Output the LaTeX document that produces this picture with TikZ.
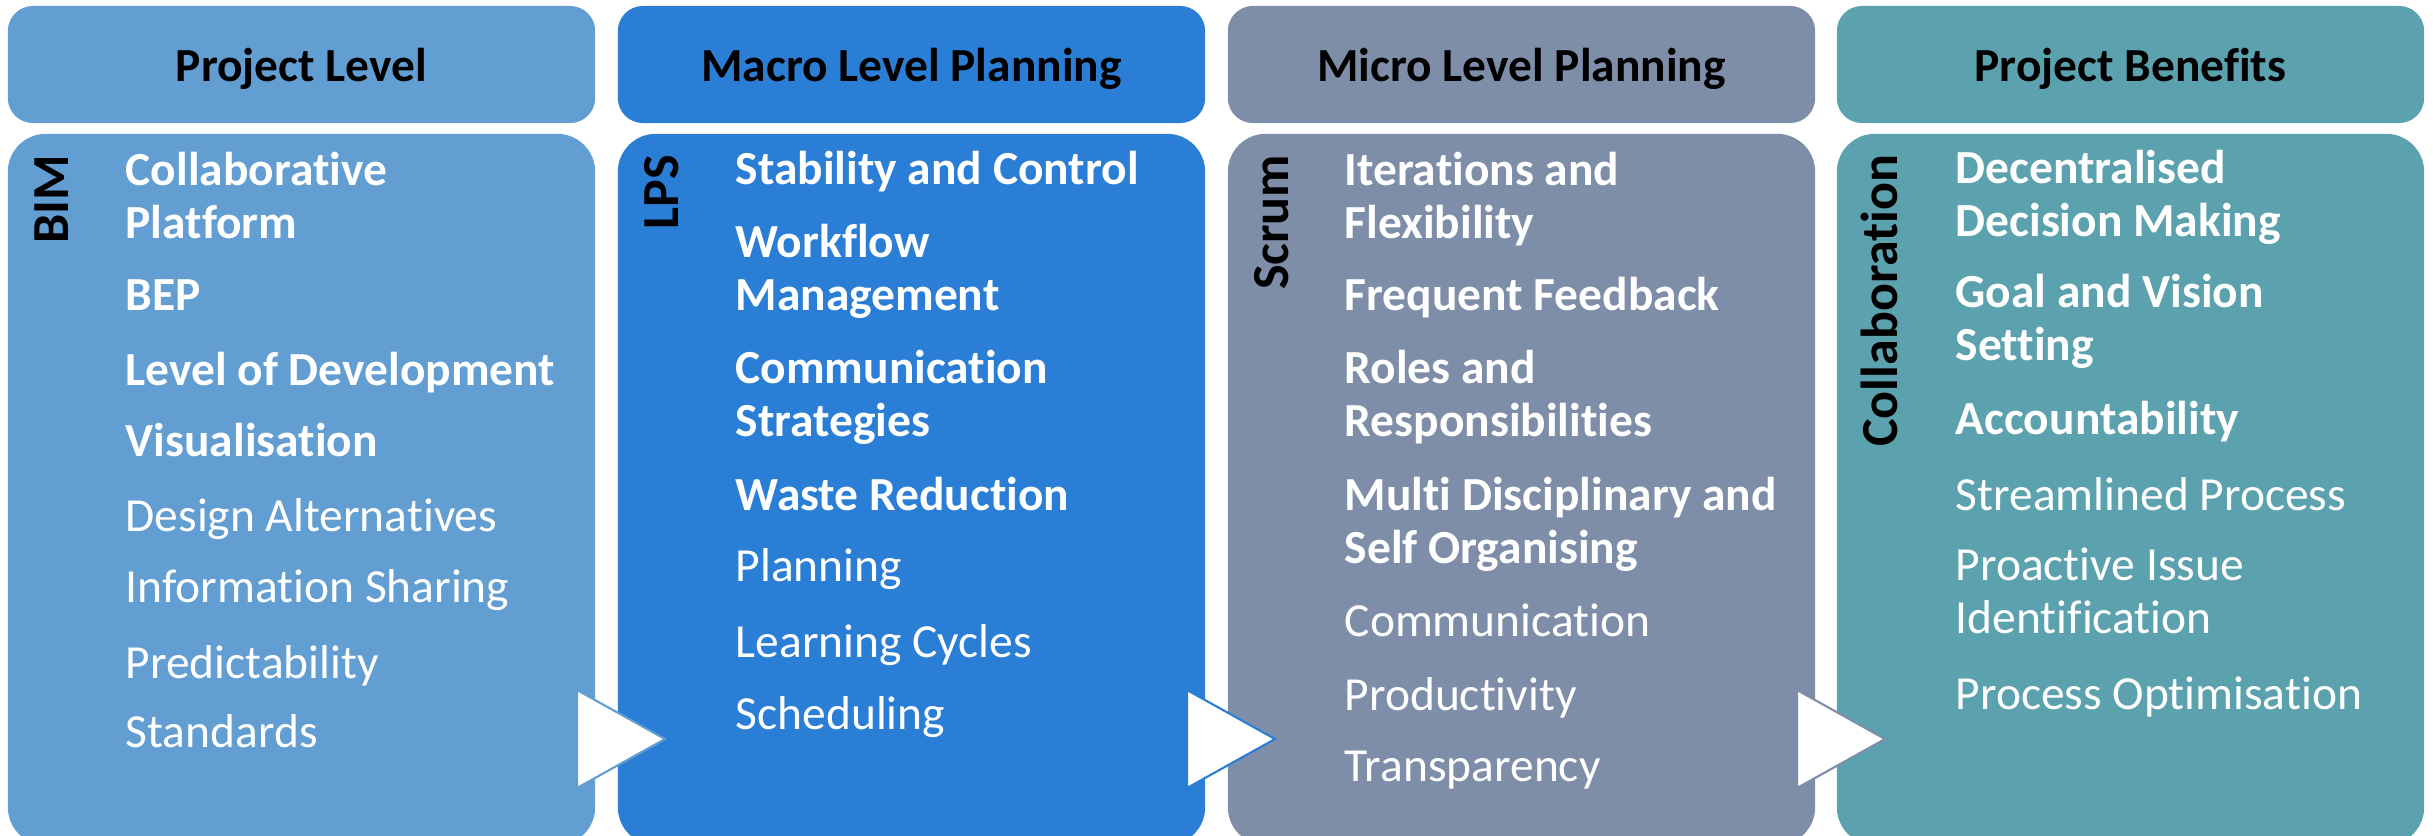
\documentclass[tikz,border=0pt]{standalone}
\usepackage{fontspec}
\setmainfont[Ligatures=NoCommon, Contextuals=NoAlternate]{Carlito}
\usepackage{xcolor}

\definecolor{projblue}{HTML}{629ED2}
\definecolor{macroblue}{HTML}{2B7ED5}
\definecolor{microgrey}{HTML}{7F8EA8}
\definecolor{beneteal}{HTML}{5BA2AE}

\newcommand\cardfont{\fontsize{13.5}{14.8}\selectfont}

\tikzset{
  headbox/.style={rectangle, rounded corners=0.25cm, minimum width=5.87cm,
    minimum height=1.17cm, inner sep=0pt, font=\cardfont\bfseries,
    text height=0.4cm, text depth=0.07cm},
  bodybox/.style={rectangle, rounded corners=0.38cm, minimum width=5.87cm,
    minimum height=7.11cm, inner sep=0pt},
  tag/.style={rotate=90, anchor=base east, inner sep=0pt,
    font=\fontsize{14.8}{16}\selectfont\bfseries},
  entry/.style={anchor=base west, inner sep=0pt, align=left, text=white, font=\cardfont},
  keyentry/.style={entry, font=\cardfont\bfseries},
  chevron/.style={fill=white, line width=0.6pt}
}

\begin{document}
\begin{tikzpicture}[x=0.01cm, y=-0.01cm]

\useasboundingbox (0,0) rectangle (2433,835);

% Column headers
\node[headbox, fill=projblue]   (h1) at (301.5,64.5)  {Project Level};
\node[headbox, fill=macroblue]  (h2) at (911.5,64.5)  {Macro Level Planning};
\node[headbox, fill=microgrey]  (h3) at (1521.5,64.5) {Micro Level Planning};
\node[headbox, fill=beneteal]   (h4) at (2130.5,64.5) {Project Benefits};

% Column bodies
\node[bodybox, fill=projblue]   (b1) at (301.5,489.5)  {};
\node[bodybox, fill=macroblue]  (b2) at (911.5,489.5)  {};
\node[bodybox, fill=microgrey]  (b3) at (1521.5,489.5) {};
\node[bodybox, fill=beneteal]   (b4) at (2130.5,489.5) {};

% Chevrons between the columns
\filldraw[chevron, draw=projblue]  (577,690) -- (665,739) -- (577,788) -- cycle;
\filldraw[chevron, draw=macroblue] (1187,690) -- (1275,739) -- (1187,788) -- cycle;
\filldraw[chevron, draw=microgrey] (1797,690) -- (1885,739) -- (1797,788) -- cycle;

% Side tags
\node[tag] (t1) at (68,154)   {BIM};
\node[tag] (t2) at (678,154)  {LPS};
\node[tag] (t3) at (1288,154) {Scrum};
\node[tag] (t4) at (1897,154) {Collaboration};

% Project level (two-line entries sit on their last baseline)
\node[keyentry] (p1) at (125,238) {Collaborative\\Platform};
\node[keyentry] (p2) at (125,310) {BEP};
\node[keyentry] (p3) at (125,385) {Level of Development};
\node[keyentry] (p4) at (125,456) {Visualisation};
\node[entry]    (p5) at (125,531) {Design Alternatives};
\node[entry]    (p6) at (125,602) {Information Sharing};
\node[entry]    (p7) at (125,678) {Predictability};
\node[entry]    (p8) at (125,747) {Standards};

% Macro level
\node[keyentry] (m1) at (735,184) {Stability and Control};
\node[keyentry] (m2) at (735,310) {Workflow\\Management};
\node[keyentry] (m3) at (735,436) {Communication\\Strategies};
\node[keyentry] (m4) at (735,510) {Waste Reduction};
\node[entry]    (m5) at (735,581) {Planning};
\node[entry]    (m6) at (735,657) {Learning Cycles};
\node[entry]    (m7) at (735,729) {Scheduling};

% Micro level
\node[keyentry] (s1) at (1344,238) {Iterations and\\Flexibility};
\node[keyentry] (s2) at (1344,310) {Frequent Feedback};
\node[keyentry] (s3) at (1344,436) {Roles and\\Responsibilities};
\node[keyentry] (s4) at (1344,563) {Multi Disciplinary and\\Self Organising};
\node[entry]    (s5) at (1344,636) {Communication};
\node[entry]    (s6) at (1344,710) {Productivity};
\node[entry]    (s7) at (1344,781) {Transparency};

% Benefits
\node[keyentry] (g1) at (1955,236) {Decentralised\\Decision Making};
\node[keyentry] (g2) at (1955,360) {Goal and Vision\\Setting};
\node[keyentry] (g3) at (1955,434) {Accountability};
\node[entry]    (g4) at (1955,510) {Streamlined Process};
\node[entry]    (g5) at (1955,633) {Proactive Issue\\Identification};
\node[entry]    (g6) at (1955,709) {Process Optimisation};

\end{tikzpicture}
\end{document}
